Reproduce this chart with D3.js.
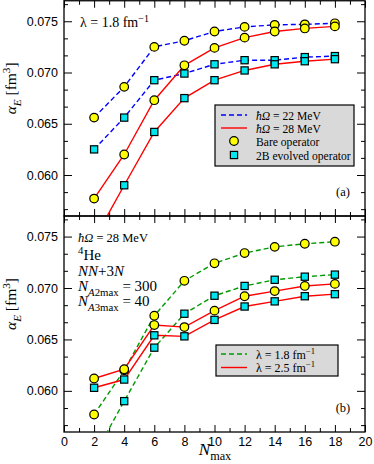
<!DOCTYPE html>
<html>
<head>
<meta charset="utf-8">
<style>
  body { margin: 0; background: white; }
  svg { font-family: "Liberation Serif", "Times New Roman", serif; }
  .axis path { display: none; }
  .axis line { stroke: #000; stroke-width: 1; }
  .axis text { font-size: 12.5px; fill: #000; }
</style>
</head>
<body>
<script src="https://cdn.jsdelivr.net/npm/d3@7"></script>
<script>
// N_max values shared by all series
var nmax = [2, 4, 6, 8, 10, 12, 14, 16, 18];

// panel (a), lambda = 1.8 fm^-1
var hw22Bare    = [0.0656, 0.0686, 0.0725, 0.0731, 0.0740, 0.07445, 0.07465, 0.0747, 0.0748];
var hw22Evolved = [0.0625, 0.0656, 0.06925, 0.0699, 0.0708, 0.0712, 0.0712, 0.0715, 0.0716];
var hw28Bare    = [0.0577, 0.0620, 0.0673, 0.0707, 0.0724, 0.0734, 0.0740, 0.0743, 0.0745];
var hw28Evolved = [0.0537, 0.0590, 0.0642, 0.0675, 0.06925, 0.0702, 0.0708, 0.0711, 0.0713];

// panel (b), hw = 28 MeV: lambda 1.8 reuses hw28 above, lambda 2.5 below
var lam25Bare    = [0.0612, 0.0621, 0.0664, 0.0662, 0.0678, 0.0692, 0.0697, 0.0702, 0.0704];
var lam25Evolved = [0.0603, 0.0611, 0.0654, 0.0653, 0.0669, 0.0682, 0.0687, 0.0692, 0.0694];

var xTicks = [0, 2, 4, 6, 8, 10, 12, 14, 16, 18, 20];
var xMinor = d3.range(1, 20, 2);
var yTicks = [0.060, 0.065, 0.070, 0.075];
var yMinor = [0.05667, 0.05833, 0.06167, 0.06333, 0.06667, 0.06833, 0.07167, 0.07333, 0.07667];

var W = 374, H = 464;
var x0 = 64, x1 = 365;

var svg = d3.select("body").append("svg")
     .attr("width", W)
     .attr("height", H);

var x = d3.scaleLinear().domain([0, 20]).range([x0, x1]);

// rich text helper: parts = [{t, i (italic), sub, sup}]
function rich(sel, parts, size) {
     var shift = 0;
     parts.forEach(function(p) {
          var target = p.sub ? size * 0.3 : (p.sup ? -size * 0.38 : 0);
          var ts = sel.append("tspan")
               .text(p.t)
               .attr("dy", target - shift)
               .style("font-size", (p.sub || p.sup ? size * 0.72 : size) + "px");
          if (p.i) ts.style("font-style", "italic");
          shift = target;
     });
}

var panels = [
     {
          top: 0.75, bottom: 216, clip: "clipA", label: "(a)",
          series: [
               {v: hw22Bare, color: "#0000ff", dash: "5,3", m: "circle"},
               {v: hw22Evolved, color: "#0000ff", dash: "5,3", m: "square"},
               {v: hw28Bare, color: "#ff0000", dash: null, m: "circle"},
               {v: hw28Evolved, color: "#ff0000", dash: null, m: "square"}
          ]
     },
     {
          top: 216, bottom: 432, clip: "clipB", label: "(b)",
          series: [
               {v: hw28Bare, color: "#009a00", dash: "5,3", m: "circle"},
               {v: hw28Evolved, color: "#009a00", dash: "5,3", m: "square"},
               {v: lam25Bare, color: "#ff0000", dash: null, m: "circle"},
               {v: lam25Evolved, color: "#ff0000", dash: null, m: "square"}
          ]
     }
];

panels.forEach(function(p, pi) {
     var y = d3.scaleLinear().domain([0.056, 0.077]).range([p.bottom, p.top]);
     p.y = y;

     svg.append("clipPath").attr("id", p.clip)
       .append("rect")
          .attr("x", x0).attr("y", p.top)
          .attr("width", x1 - x0).attr("height", p.bottom - p.top);

     // ticks, all pointing inwards
     svg.append("g").attr("class", "axis")
          .attr("transform", "translate(" + x0 + ",0)")
          .call(d3.axisLeft(y).tickValues(yTicks).tickSize(-8).tickFormat(d3.format(".3f")))
          .selectAll("text").attr("x", -6);
     svg.append("g").attr("class", "axis")
          .attr("transform", "translate(" + x0 + ",0)")
          .call(d3.axisLeft(y).tickValues(yMinor).tickSize(-4).tickFormat(""));
     svg.append("g").attr("class", "axis")
          .attr("transform", "translate(" + x1 + ",0)")
          .call(d3.axisRight(y).tickValues(yTicks).tickSize(-8).tickFormat(""));
     svg.append("g").attr("class", "axis")
          .attr("transform", "translate(" + x1 + ",0)")
          .call(d3.axisRight(y).tickValues(yMinor).tickSize(-4).tickFormat(""));

     svg.append("g").attr("class", "axis")
          .attr("transform", "translate(0," + p.top + ")")
          .call(d3.axisTop(x).tickValues(xTicks).tickSize(-7).tickFormat(""));
     svg.append("g").attr("class", "axis")
          .attr("transform", "translate(0," + p.top + ")")
          .call(d3.axisTop(x).tickValues(xMinor).tickSize(-4).tickFormat(""));
     var bx = svg.append("g").attr("class", "axis")
          .attr("transform", "translate(0," + p.bottom + ")")
          .call(d3.axisBottom(x).tickValues(xTicks).tickSize(-7)
               .tickFormat(pi == 1 ? d3.format("d") : ""));
     bx.selectAll("text").attr("y", 5);
     svg.append("g").attr("class", "axis")
          .attr("transform", "translate(0," + p.bottom + ")")
          .call(d3.axisBottom(x).tickValues(xMinor).tickSize(-4).tickFormat(""));

     // frame
     svg.append("rect")
          .attr("x", x0).attr("y", p.top)
          .attr("width", x1 - x0).attr("height", p.bottom - p.top)
          .attr("fill", "none").attr("stroke", "#000").attr("stroke-width", 1.3);

     var plot = svg.append("g").attr("clip-path", "url(#" + p.clip + ")");
     var line = d3.line()
          .x(function(d, i) { return x(nmax[i]); })
          .y(function(d) { return y(d); });

     p.series.forEach(function(s) {
          plot.append("path")
               .attr("d", line(s.v))
               .attr("fill", "none")
               .attr("stroke", s.color)
               .attr("stroke-width", 1.4)
               .attr("stroke-dasharray", s.dash);
     });
     p.series.forEach(function(s) {
          s.v.forEach(function(d, i) {
               drawMarker(plot, s.m, x(nmax[i]), y(d));
          });
     });

     svg.append("text")
          .attr("x", 343).attr("y", p.bottom - 20)
          .attr("text-anchor", "middle")
          .style("font-size", "12.5px")
          .text(p.label);

     // y axis label
     var yl = svg.append("text")
          .attr("transform", "translate(16," + ((p.top + p.bottom) / 2 - 20) + ") rotate(-90)")
          .attr("text-anchor", "middle");
     rich(yl, [{t: "\u03b1", i: true}, {t: "E", i: true, sub: true}, {t: " [fm"}, {t: "3", sup: true}, {t: "]"}], 15.5);
});

function drawMarker(g, type, cx, cy) {
     if (type == "circle") {
          g.append("circle")
               .attr("cx", cx).attr("cy", cy).attr("r", 4.3)
               .attr("fill", "#ffff00").attr("stroke", "#000").attr("stroke-width", 1.2);
     } else {
          g.append("rect")
               .attr("x", cx - 3.6).attr("y", cy - 3.6)
               .attr("width", 7.2).attr("height", 7.2)
               .attr("fill", "#00e5ee").attr("stroke", "#000").attr("stroke-width", 1.2);
     }
}

// annotations
var annA = svg.append("text").attr("x", 80).attr("y", 27);
rich(annA, [{t: "\u03bb = 1.8 fm"}, {t: "\u22121", sup: true}], 14);

var annB = [
     [{t: "\u0127\u03a9", i: true}, {t: " = 28 MeV"}],
     [{t: "4", sup: true}, {t: "He"}],
     [{t: "NN", i: true}, {t: "+3"}, {t: "N", i: true}],
     [{t: "N", i: true}, {t: "A", i: true, sub: true}, {t: "2max", sub: true}, {t: " = 300"}],
     [{t: "N", i: true}, {t: "A", i: true, sub: true}, {t: "3max", sub: true}, {t: " = 40"}]
];
var annY = [242, 260, 276, 291, 306];
var annSize = [12.5, 15, 15, 15, 15];
annB.forEach(function(parts, i) {
     rich(svg.append("text").attr("x", 78).attr("y", annY[i]), parts, annSize[i]);
});

// legends
function legend(box, rows, size) {
     svg.append("rect")
          .attr("x", box[0]).attr("y", box[1])
          .attr("width", box[2]).attr("height", box[3])
          .attr("fill", "#d9d9d9").attr("stroke", "#000").attr("stroke-width", 1.2);
     rows.forEach(function(r) {
          if (r.color) {
               svg.append("line")
                    .attr("x1", 221).attr("x2", 247)
                    .attr("y1", r.y).attr("y2", r.y)
                    .attr("stroke", r.color).attr("stroke-width", 1.4)
                    .attr("stroke-dasharray", r.dash);
          } else {
               drawMarker(svg, r.m, 234, r.y);
          }
          rich(svg.append("text").attr("x", 256).attr("y", r.y + 4.5), r.parts, size);
     });
}

legend([215, 105, 139, 61], [
     {y: 115, color: "#0000ff", dash: "5,3", parts: [{t: "\u0127\u03a9", i: true}, {t: " = 22 MeV"}]},
     {y: 128, color: "#ff0000", dash: null, parts: [{t: "\u0127\u03a9", i: true}, {t: " = 28 MeV"}]},
     {y: 141, m: "circle", parts: [{t: "Bare operator"}]},
     {y: 155, m: "square", parts: [{t: "2B evolved operator"}]}
], 11.6);

legend([216, 345, 122, 31], [
     {y: 354, color: "#009a00", dash: "5,3", parts: [{t: "\u03bb = 1.8 fm"}, {t: "\u22121", sup: true}]},
     {y: 367.5, color: "#ff0000", dash: null, parts: [{t: "\u03bb = 2.5 fm"}, {t: "\u22121", sup: true}]}
], 12);

// x axis label
var xl = svg.append("text").attr("x", 215).attr("y", 455).attr("text-anchor", "middle");
rich(xl, [{t: "N", i: true}, {t: "max", sub: true}], 17);
</script>
</body>
</html>
